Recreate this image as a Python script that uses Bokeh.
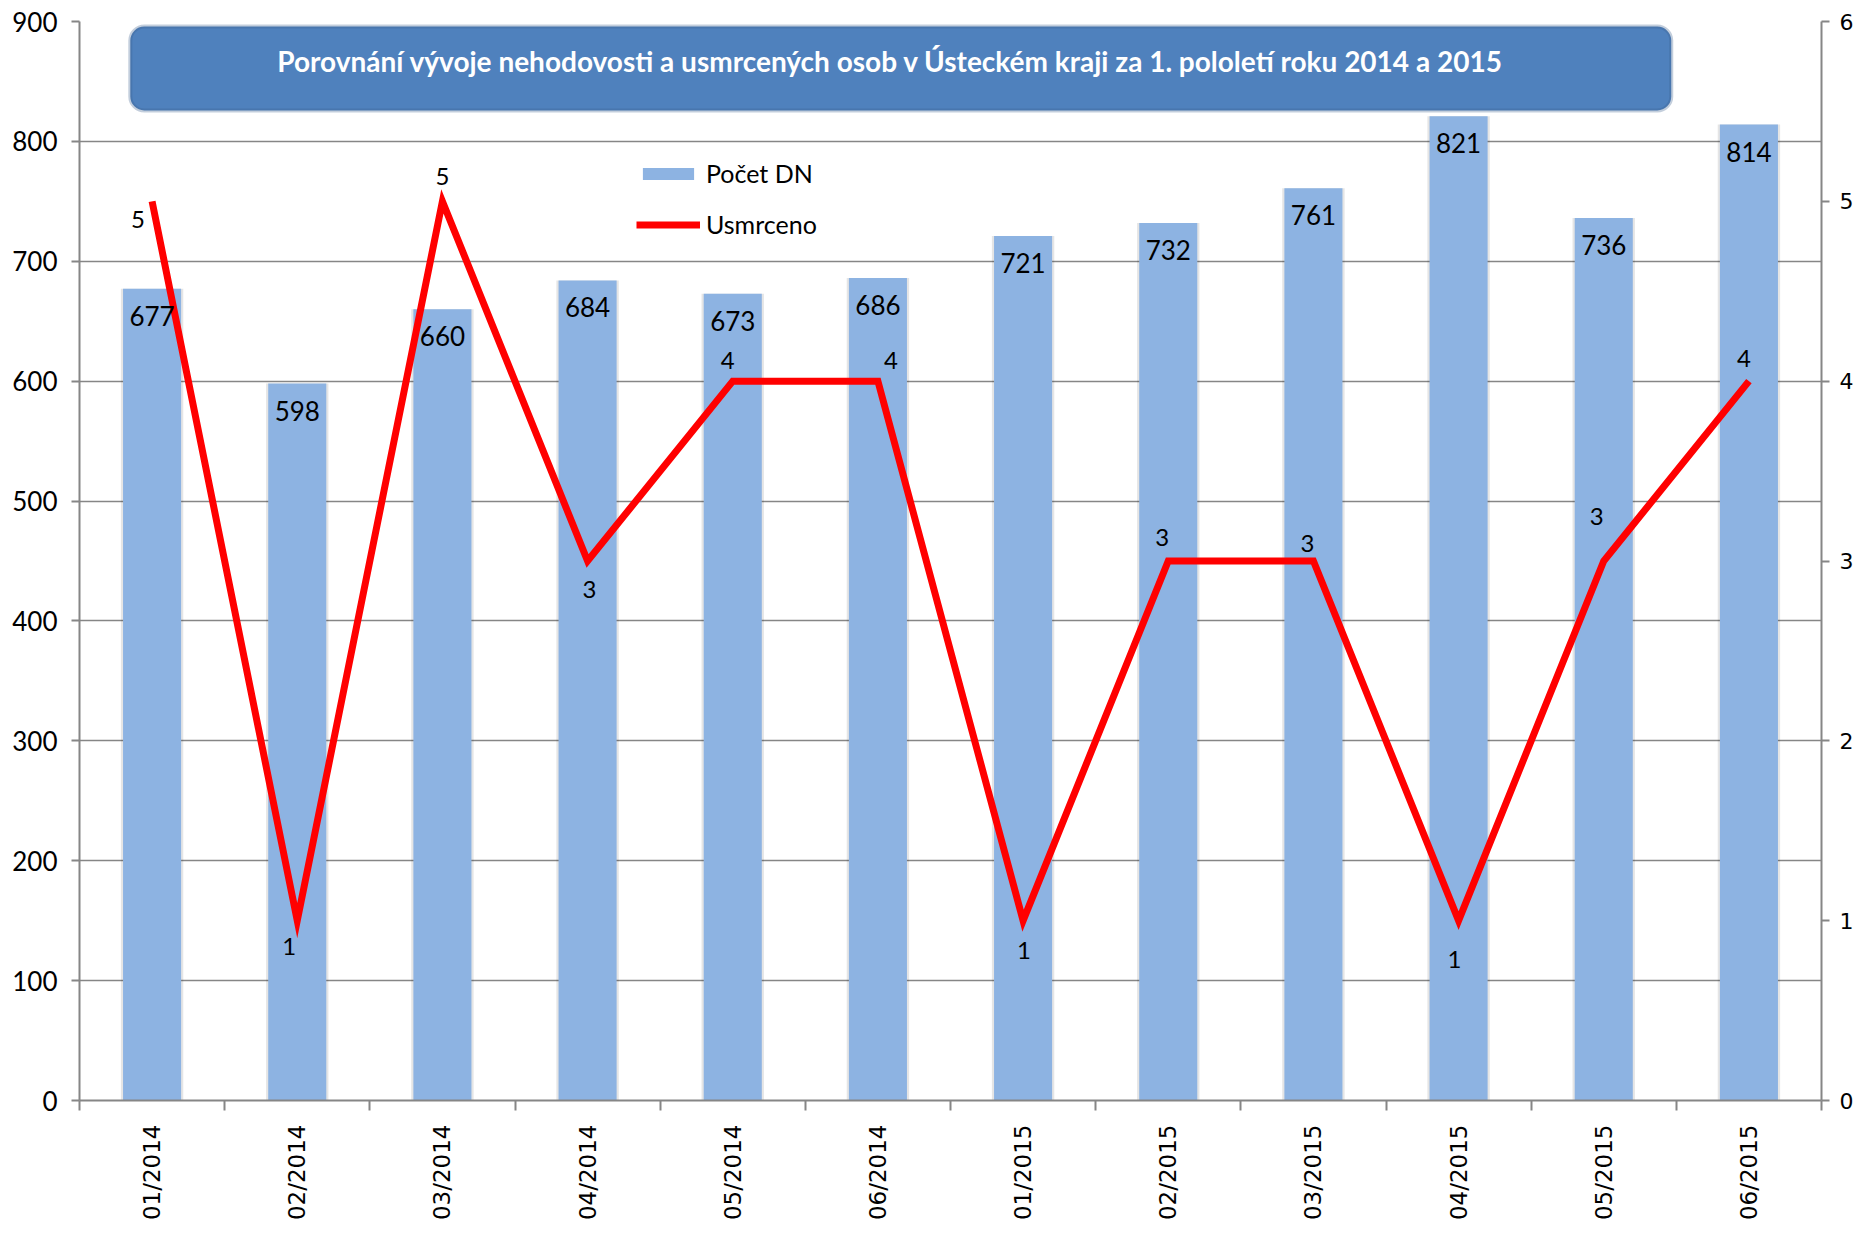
import numpy as np
from bokeh.plotting import figure
from bokeh.models import (ColumnDataSource, Range1d, LinearAxis, FixedTicker,
                          BoxAnnotation, Label, Legend, LegendItem)
from bokeh.core.properties import value
from bokeh.embed import file_html
from bokeh.resources import INLINE

# ---- data ----
months = ["01/2014", "02/2014", "03/2014", "04/2014", "05/2014", "06/2014",
          "01/2015", "02/2015", "03/2015", "04/2015", "05/2015", "06/2015"]
accidents = [677, 598, 660, 684, 673, 686, 721, 732, 761, 821, 736, 814]
killed = [5, 1, 5, 3, 4, 4, 1, 3, 3, 1, 3, 4]
left_ticks = [0, 100, 200, 300, 400, 500, 600, 700, 800, 900]
right_ticks = [0, 1, 2, 3, 4, 5, 6]
series_names = ["Počet DN", "Usmrceno"]
title_text = "Porovnání vývoje nehodovosti  a usmrcených osob v Ústeckém kraji  za  1. pololetí roku 2014 a 2015"

# ---- label offsets for the line's data labels (style, screen px) ----
killed_dx = [-14, -8, 0, 2, -5, 13, 1, -6, -6, -4, -7, -5]
killed_dy = [18, 26, -25, 28, -21, -21, 30, -24, -18, 39, -45, -23]

n = len(months)
xs = [i + 0.5 for i in range(n)]
src = ColumnDataSource(dict(
    x=xs, acc=accidents, acc_txt=[str(v) for v in accidents],
    kil=killed, kil_txt=[str(v) for v in killed],
    dx=killed_dx, dy=killed_dy,
))

GRAY = "#868686"
p = figure(width=1856, height=1240, output_backend="svg", toolbar_location=None,
           x_range=Range1d(0, n), y_range=Range1d(left_ticks[0], left_ticks[-1]),
           min_border_left=79, min_border_right=33, min_border_top=21,
           min_border_bottom=140, background_fill_color="white",
           border_fill_color="white", outline_line_color=None)
p.extra_y_ranges = {"killed": Range1d(right_ticks[0], right_ticks[-1])}

# grid
p.xgrid.visible = False
p.ygrid.ticker = FixedTicker(ticks=left_ticks)
p.ygrid.grid_line_color = GRAY
p.ygrid.grid_line_width = 1.5

# x axis: labels at centres, ticks at boundaries
xa = p.xaxis[0]
xa.ticker = FixedTicker(ticks=xs, minor_ticks=list(range(n + 1)))
xa.major_label_overrides = {x: m for x, m in zip(xs, months)}
xa.major_label_orientation = np.pi / 2
xa.major_tick_out = 0
xa.major_tick_in = 0
xa.minor_tick_out = 10
xa.minor_tick_in = 0
xa.minor_tick_line_color = GRAY
xa.minor_tick_line_width = 2
xa.axis_line_color = GRAY
xa.axis_line_width = 2
xa.major_label_standoff = 14
xa.major_label_text_font = "DejaVu Sans"
xa.major_label_text_font_size = "23px"
xa.major_label_text_color = "black"

# left axis
ya = p.yaxis[0]
ya.ticker = FixedTicker(ticks=left_ticks)
ya.major_tick_out = 8
ya.major_tick_in = 0
ya.minor_tick_out = 0
ya.minor_tick_in = 0
ya.major_tick_line_color = GRAY
ya.major_tick_line_width = 2
ya.axis_line_color = GRAY
ya.axis_line_width = 2
ya.major_label_standoff = 14
ya.major_label_text_font = "Lato"
ya.major_label_text_font_size = "26px"
ya.major_label_text_color = "black"

# right axis
ra = LinearAxis(y_range_name="killed", ticker=FixedTicker(ticks=right_ticks))
ra.major_tick_out = 8
ra.major_tick_in = 0
ra.minor_tick_out = 0
ra.minor_tick_in = 0
ra.major_tick_line_color = GRAY
ra.major_tick_line_width = 2
ra.axis_line_color = GRAY
ra.axis_line_width = 2
ra.major_label_standoff = 10
ra.major_label_text_font = "DejaVu Sans"
ra.major_label_text_font_size = "22px"
ra.major_label_text_color = "black"
p.add_layout(ra, "right")

# bars (soft shadow + bar)
p.vbar(x="x", top="acc", width=0.43, source=src, fill_color="#000000",
       fill_alpha=0.10, line_color=None)
bars = p.vbar(x="x", top="acc", width=0.4, source=src, fill_color="#8DB3E2",
              line_color=None)

# line
line = p.line(x="x", y="kil", source=src, y_range_name="killed",
              line_color="#FF0000", line_width=7, line_join="miter")

# bar data labels
p.text(x="x", y="acc", text="acc_txt", source=src, y_offset=27,
       text_align="center", text_baseline="middle",
       text_font=value("Lato"), text_font_size="26px", text_color="black")

# line data labels
p.text(x="x", y="kil", text="kil_txt", source=src, y_range_name="killed",
       x_offset="dx", y_offset="dy",
       text_align="center", text_baseline="middle",
       text_font=value("Lato"), text_font_size="24px", text_color="black")

# title box
box = BoxAnnotation(left=0.35, right=10.965, top=895.8, bottom=825.8,
                    fill_color="#4F81BD", fill_alpha=1.0,
                    line_color="#385D8A", line_width=4, border_radius=14,
                    level="overlay")
p.add_layout(box)
p.add_layout(Label(x=(0.35 + 10.965) / 2, y=867.0, text=title_text,
                   text_align="center", text_baseline="middle",
                   text_color="white", text_font="Lato",
                   text_font_style="bold", text_font_size="28px",
                   level="overlay"))

# legend
legend = Legend(items=[LegendItem(label=series_names[0], renderers=[bars]),
                       LegendItem(label=series_names[1], renderers=[line])],
                location=(557, 861), orientation="vertical",
                border_line_alpha=0, background_fill_alpha=0,
                glyph_width=64, glyph_height=15, label_height=20,
                spacing=21, padding=0, margin=0, label_standoff=6,
                label_text_font="Lato", label_text_font_size="25px",
                label_text_color="black")
p.add_layout(legend)

open("out.html", "w").write(file_html(p, INLINE))
